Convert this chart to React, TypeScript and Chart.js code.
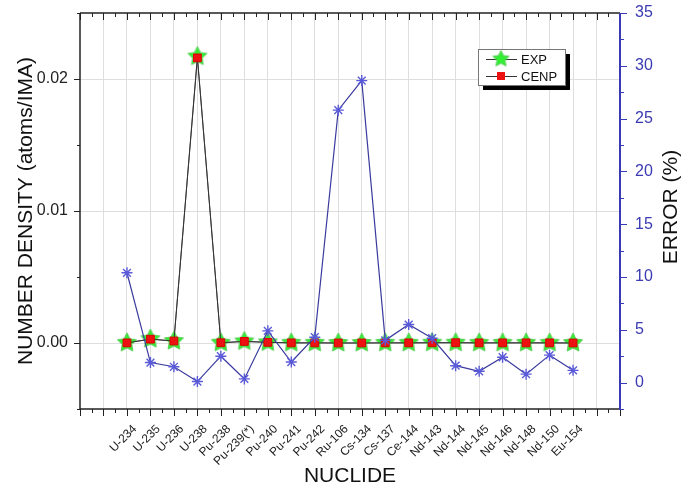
import { useEffect, useRef } from 'react';
import { Chart, registerables } from 'chart.js';

Chart.register(...registerables);

// nuclides on the x axis
const nuclides = [
  'U-234', 'U-235', 'U-236', 'U-238', 'Pu-238', 'Pu-239(*)', 'Pu-240', 'Pu-241', 'Pu-242', 'Ru-106',
  'Cs-134', 'Cs-137', 'Ce-144', 'Nd-143', 'Nd-144', 'Nd-145', 'Nd-146', 'Nd-148', 'Nd-150', 'Eu-154',
];

// number density (atoms/IMA)
const expDensity = [
  0.00001, 0.0003, 0.00015, 0.0217, 0.00002, 0.00012, 0.00005, 0.00001, 0.00001, 0.000002,
  0.000002, 0.00001, 0.00001, 0.00002, 0.00002, 0.00001, 0.00001, 0.00001, 0.00001, 0.000002,
];
const cenpDensity = [
  0.00001, 0.00029, 0.00015, 0.0216, 0.00002, 0.00012, 0.00005, 0.00001, 0.00001, 0.000002,
  0.000002, 0.00001, 0.00001, 0.00002, 0.00002, 0.00001, 0.00001, 0.00001, 0.00001, 0.000002,
];

// relative error (%)
const errorPct = [
  10.4, 1.9, 1.5, 0.1, 2.5, 0.35, 4.9, 1.95, 4.3, 25.8,
  28.6, 4.0, 5.5, 4.2, 1.6, 1.07, 2.4, 0.8, 2.6, 1.16,
];

const densityTickLabels = [0, 0.01, 0.02];
const errorTickLabels = [0, 5, 10, 15, 20, 25, 30, 35];

const FONT = "'Liberation Sans', Arial, sans-serif";
const BLUE = '#3a3ab2';

function makeStar(r: number) {
  const size = Math.ceil(r * 2 + 4);
  const c = document.createElement('canvas');
  c.width = size;
  c.height = size;
  const g = c.getContext('2d')!;
  g.beginPath();
  for (let i = 0; i < 10; i++) {
    const rad = i % 2 === 0 ? r : r * 0.5;
    const ang = -Math.PI / 2 + (i * Math.PI) / 5;
    const px = size / 2 + rad * Math.cos(ang);
    const py = size / 2 + rad * Math.sin(ang);
    if (i === 0) g.moveTo(px, py);
    else g.lineTo(px, py);
  }
  g.closePath();
  g.fillStyle = '#33ee33';
  g.fill();
  g.strokeStyle = '#5acc5a';
  g.lineWidth = 1;
  g.stroke();
  return c;
}

const near = (v: number, list: number[]) => list.some(t => Math.abs(v - t) < 1e-9);

const noPad = (s: any) => {
  s.paddingTop = 0;
  s.paddingBottom = 0;
  s.paddingLeft = 0;
  s.paddingRight = 0;
};

const decor = {
  id: 'decor',
  afterDraw(chart: any) {
    const { ctx, chartArea: a, scales } = chart;
    const sx = scales.x, sy = scales.y, sy2 = scales.y2;
    const line = (x1: number, y1: number, x2: number, y2: number) => {
      ctx.beginPath();
      ctx.moveTo(x1, y1);
      ctx.lineTo(x2, y2);
      ctx.stroke();
    };
    ctx.save();

    // x tick marks (top and bottom)
    ctx.strokeStyle = '#222';
    ctx.lineWidth = 1;
    for (let v = -2; v <= 21.001; v += 0.5) {
      const px = Math.round(sx.getPixelForValue(v)) + 0.5;
      const len = Number.isInteger(v) ? 7 : 4;
      line(px, a.bottom, px, a.bottom + len);
      line(px, a.top, px, a.top + len);
    }
    // left tick marks
    for (let v = -0.005; v <= 0.0251; v += 0.005) {
      const py = Math.round(sy.getPixelForValue(v)) + 0.5;
      const len = near(v, densityTickLabels) ? 6 : 3;
      line(a.left - len, py, a.left, py);
    }
    // frame
    ctx.lineWidth = 1.5;
    line(a.left, a.top, a.right, a.top);
    line(a.left, a.top, a.left, a.bottom);
    line(a.left, a.bottom, a.right, a.bottom);

    // right axis in blue
    ctx.strokeStyle = BLUE;
    ctx.lineWidth = 1;
    for (let v = -2.5; v <= 35.01; v += 2.5) {
      const py = Math.round(sy2.getPixelForValue(v)) + 0.5;
      const len = near(v, errorTickLabels) ? 7 : 4;
      line(a.right, py, a.right + len, py);
    }
    ctx.lineWidth = 2;
    line(a.right, a.top, a.right, a.bottom + 1);

    // axis titles
    ctx.fillStyle = '#111';
    ctx.font = `21px ${FONT}`;
    ctx.textAlign = 'center';
    ctx.textBaseline = 'middle';
    ctx.fillText('NUCLIDE', 350, 476);
    ctx.save();
    ctx.translate(26, 211);
    ctx.rotate(-Math.PI / 2);
    ctx.fillText('NUMBER DENSITY (atoms/IMA)', 0, 0);
    ctx.restore();
    ctx.save();
    ctx.translate(671, 207);
    ctx.rotate(-Math.PI / 2);
    ctx.fillText('ERROR (%)', 0, 0);
    ctx.restore();

    // legend
    const bx = 478, by = 49, bw = 87, bh = 36;
    ctx.fillStyle = '#000';
    ctx.fillRect(bx + 5, by + 5, bw, bh);
    ctx.fillStyle = '#fff';
    ctx.fillRect(bx, by, bw, bh);
    ctx.strokeStyle = '#777';
    ctx.lineWidth = 1;
    ctx.strokeRect(bx + 0.5, by + 0.5, bw, bh);
    ctx.strokeStyle = '#333';
    line(486, 59.5, 517, 59.5);
    line(486, 76.5, 517, 76.5);
    const star = makeStar(8.5);
    ctx.drawImage(star, 501 - star.width / 2, 59 - star.height / 2);
    ctx.fillStyle = '#ee1111';
    ctx.fillRect(497, 72, 8, 8);
    ctx.fillStyle = '#111';
    ctx.font = `13px ${FONT}`;
    ctx.textAlign = 'left';
    ctx.fillText('EXP', 521, 60);
    ctx.fillText('CENP', 521, 77);

    ctx.restore();
  },
};

export default function App() {
  const canvasRef = useRef<HTMLCanvasElement>(null);
  const chartRef = useRef<Chart | null>(null);

  useEffect(() => {
    if (!canvasRef.current) return;
    const ctx = canvasRef.current.getContext('2d');
    if (!ctx) return;
    if (chartRef.current) chartRef.current.destroy();

    const star = makeStar(10);

    chartRef.current = new Chart(ctx, {
      type: 'line',
      data: {
        datasets: [
          {
            label: 'ERROR',
            data: errorPct.map((v, i) => ({ x: i, y: v })),
            yAxisID: 'y2',
            borderColor: '#3b3b9e',
            borderWidth: 1.2,
            pointStyle: 'star',
            pointRadius: 5.5,
            pointBorderColor: '#5a5ad8',
            pointBorderWidth: 1.4,
            order: 0,
          },
          {
            label: 'CENP',
            data: cenpDensity.map((v, i) => ({ x: i, y: v })),
            yAxisID: 'y',
            borderColor: '#333',
            borderWidth: 1,
            pointStyle: 'rect',
            pointRadius: 5.5,
            pointBackgroundColor: '#ee1111',
            pointBorderColor: '#dd0000',
            pointBorderWidth: 1,
            order: 1,
          },
          {
            label: 'EXP',
            data: expDensity.map((v, i) => ({ x: i, y: v })),
            yAxisID: 'y',
            borderColor: '#555',
            borderWidth: 1,
            pointStyle: star,
            pointRadius: 10,
            order: 2,
          },
        ],
      },
      options: {
        responsive: false,
        animation: false,
        layout: { padding: { top: 13, left: 0, right: 0, bottom: 0 } },
        plugins: {
          legend: { display: false },
          tooltip: { enabled: false },
        },
        scales: {
          x: {
            type: 'linear',
            min: -2,
            max: 21,
            afterFit: (s: any) => { s.height = 81; noPad(s); },
            border: { display: false },
            grid: {
              drawTicks: false,
              color: (c: any) => (c.tick && c.tick.value >= -1 && c.tick.value <= 20 ? '#dedede' : 'transparent'),
            },
            ticks: {
              stepSize: 1,
              autoSkip: false,
              minRotation: 45,
              maxRotation: 45,
              padding: 13,
              labelOffset: 8,
              color: '#222',
              font: { family: FONT, size: 12 },
              callback: (v: any) => nuclides[v as number] ?? '',
            },
          },
          y: {
            position: 'left',
            min: -0.005,
            max: 0.025,
            afterFit: (s: any) => { s.width = 80; noPad(s); },
            border: { display: false },
            grid: {
              drawTicks: false,
              color: (c: any) => (c.tick && near(c.tick.value, densityTickLabels) ? '#dedede' : 'transparent'),
            },
            ticks: {
              stepSize: 0.005,
              padding: 12,
              color: '#222',
              font: { family: FONT, size: 16 },
              callback: (v: any) => (near(v as number, densityTickLabels) ? (v as number).toFixed(2) : ''),
            },
          },
          y2: {
            position: 'right',
            min: -2.5,
            max: 35,
            afterFit: (s: any) => { s.width = 63; noPad(s); },
            border: { display: false },
            grid: { display: false, drawTicks: false },
            ticks: {
              stepSize: 2.5,
              padding: 15,
              color: BLUE,
              font: { family: FONT, size: 16 },
              callback: (v: any) => (near(v as number, errorTickLabels) ? String(v) : ''),
            },
          },
        },
      },
      plugins: [decor],
    });

    return () => {
      if (chartRef.current) {
        chartRef.current.destroy();
        chartRef.current = null;
      }
    };
  }, []);

  return (
    <div style={{ position: 'fixed', left: 0, top: 0, width: 683, height: 490, background: '#fff' }}>
      <canvas ref={canvasRef} width={683} height={490} style={{ width: 683, height: 490 }}></canvas>
    </div>
  );
}
